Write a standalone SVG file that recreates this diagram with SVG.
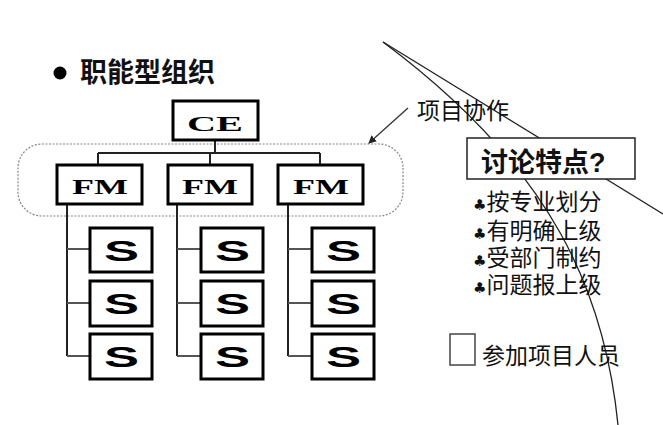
<svg xmlns="http://www.w3.org/2000/svg" width="663" height="425" viewBox="0 0 663 425">
<defs>
<style>
.box{fill:#fff;stroke:#000;stroke-width:3}
.lbl{font-family:"Liberation Serif",serif;font-weight:bold;font-size:22px;fill:#000}
.s{font-family:"Liberation Sans",Arial,sans-serif;font-weight:bold;font-size:30px;fill:#000}
.cn{font-family:"Liberation Sans","Noto Sans CJK SC",sans-serif;fill:#111}
.conn{stroke:#222;stroke-width:2;fill:none}
.br{stroke:#555;stroke-width:2;fill:none}
.thin{stroke:#222;stroke-width:1.3;fill:none}
.club{font-family:"DejaVu Sans",sans-serif;font-size:15px}
</style>
<marker id="ah" markerWidth="8" markerHeight="8" refX="7" refY="4" orient="auto" markerUnits="userSpaceOnUse">
<path d="M0,0 L8,4 L0,8 Z" fill="#222"/>
</marker>
</defs>
<rect width="663" height="425" fill="#fff"/>

<g id="lines-bg">
<path class="thin" d="M383,42 C555,170 605,295 618,425"/>
<path class="thin" d="M383,42 L663,214"/>
</g>

<g id="heading">
<circle cx="60" cy="73" r="6.5" fill="#000"/>
<text class="cn" x="80" y="82" font-size="27" font-weight="bold" fill="#000">职能型组织</text>
</g>

<g id="group-frame">
<rect x="18" y="144" width="385" height="72" rx="24" ry="24" fill="none" stroke="#888" stroke-width="1.2" stroke-dasharray="2,1.5"/>
</g>

<g id="connectors">
<path class="conn" d="M215,140 V153 M98,153 H320 M98,153 V164 M210,153 V164 M320,153 V164"/>
<path class="conn" d="M67,204 V356 M177,204 V356 M288,204 V356"/>
<path class="br" d="M67,249 H90 M67,303 H90 M67,356 H90"/>
<path class="br" d="M177,249 H201 M177,303 H201 M177,356 H201"/>
<path class="br" d="M288,249 H312 M288,303 H312 M288,356 H312"/>
<line x1="408" y1="108" x2="369" y2="143" stroke="#333" stroke-width="1.3" marker-end="url(#ah)"/>
</g>

<g id="ce">
<rect class="box" x="173" y="101" width="85" height="39"/>
<text class="lbl" x="187" y="131" textLength="56" lengthAdjust="spacingAndGlyphs">CE</text>
</g>
<g id="fm1">
<rect class="box" x="57" y="165" width="85" height="39"/>
<text class="lbl" x="72" y="194" textLength="56" lengthAdjust="spacingAndGlyphs">FM</text>
</g>
<g id="fm2">
<rect class="box" x="168" y="165" width="84" height="39"/>
<text class="lbl" x="182" y="194" textLength="56" lengthAdjust="spacingAndGlyphs">FM</text>
</g>
<g id="fm3">
<rect class="box" x="278" y="165" width="85" height="39"/>
<text class="lbl" x="293" y="194" textLength="56" lengthAdjust="spacingAndGlyphs">FM</text>
</g>

<g id="s11"><rect class="box" x="90" y="228" width="62" height="44"/><text class="s" x="104" y="261" textLength="35" lengthAdjust="spacingAndGlyphs">S</text></g>
<g id="s12"><rect class="box" x="90" y="281" width="62" height="45"/><text class="s" x="104" y="314" textLength="35" lengthAdjust="spacingAndGlyphs">S</text></g>
<g id="s13"><rect class="box" x="90" y="334" width="62" height="45"/><text class="s" x="104" y="367" textLength="35" lengthAdjust="spacingAndGlyphs">S</text></g>
<g id="s21"><rect class="box" x="201" y="228" width="62" height="44"/><text class="s" x="215" y="261" textLength="35" lengthAdjust="spacingAndGlyphs">S</text></g>
<g id="s22"><rect class="box" x="201" y="281" width="62" height="45"/><text class="s" x="215" y="314" textLength="35" lengthAdjust="spacingAndGlyphs">S</text></g>
<g id="s23"><rect class="box" x="201" y="334" width="62" height="45"/><text class="s" x="215" y="367" textLength="35" lengthAdjust="spacingAndGlyphs">S</text></g>
<g id="s31"><rect class="box" x="312" y="228" width="62" height="44"/><text class="s" x="326" y="261" textLength="35" lengthAdjust="spacingAndGlyphs">S</text></g>
<g id="s32"><rect class="box" x="312" y="281" width="62" height="45"/><text class="s" x="326" y="314" textLength="35" lengthAdjust="spacingAndGlyphs">S</text></g>
<g id="s33"><rect class="box" x="312" y="334" width="62" height="45"/><text class="s" x="326" y="367" textLength="35" lengthAdjust="spacingAndGlyphs">S</text></g>

<g id="collab-label">
<text class="cn" x="417" y="119" font-size="23">项目协作</text>
</g>

<g id="discuss">
<rect x="467" y="138" width="168" height="41" fill="#fff" stroke="#222" stroke-width="1.5"/>
<text class="cn" x="481" y="172" font-size="27" font-weight="bold" fill="#000">讨论特点?</text>
</g>

<g id="points" class="cn" font-size="23">
<text x="473" y="210"><tspan class="club">♣</tspan>按专业划分</text>
<text x="473" y="239"><tspan class="club">♣</tspan>有明确上级</text>
<text x="473" y="266"><tspan class="club">♣</tspan>受部门制约</text>
<text x="473" y="293"><tspan class="club">♣</tspan>问题报上级</text>
</g>

<g id="legend">
<rect x="450" y="334" width="25" height="31" fill="none" stroke="#444" stroke-width="1.5"/>
<text class="cn" x="482" y="364" font-size="23">参加项目人员</text>
</g>
</svg>
